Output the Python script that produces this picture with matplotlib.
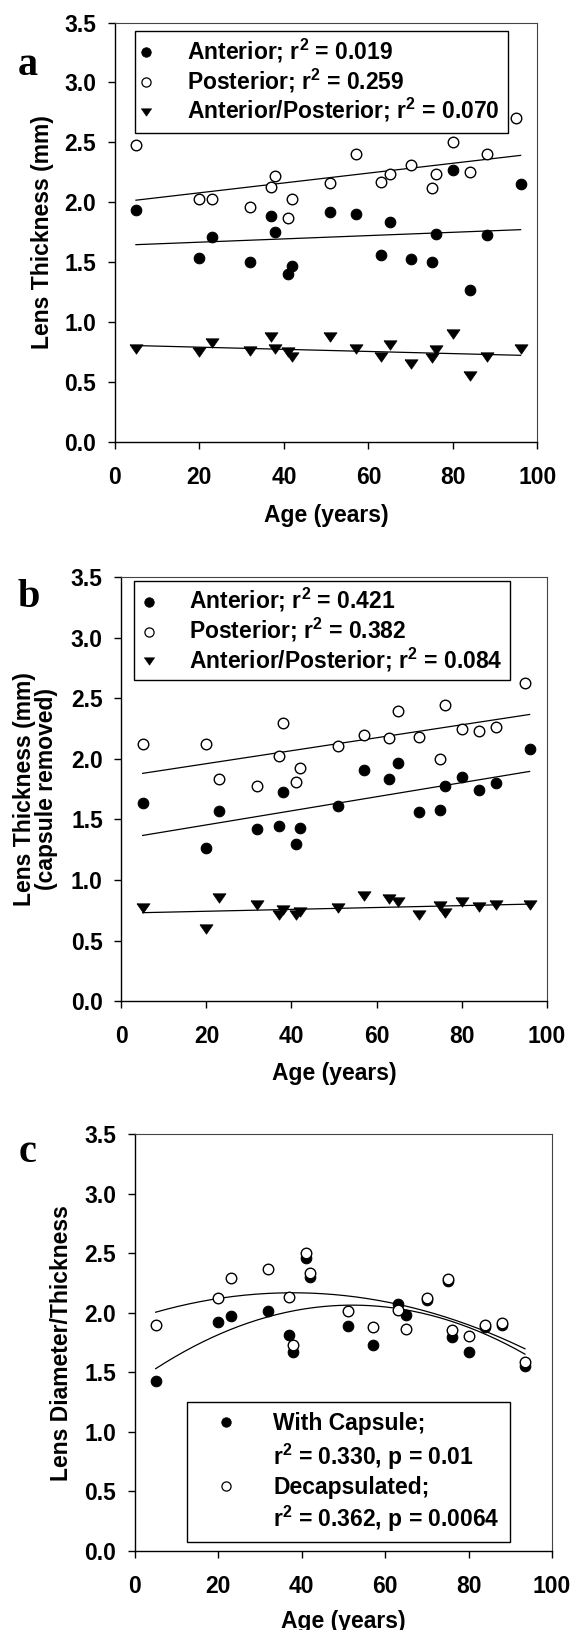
import numpy as np
import matplotlib
matplotlib.use("Agg")
import matplotlib.pyplot as plt
from matplotlib.lines import Line2D
from matplotlib.patches import Rectangle
from matplotlib.transforms import Affine2D

plt.rcParams.update({
    "font.family": "Liberation Sans",
    "font.weight": "bold",
    "axes.labelweight": "bold",
    "mathtext.fontset": "custom",
    "mathtext.rm": "Liberation Sans:bold",
    "mathtext.it": "Liberation Sans:bold",
    "mathtext.bf": "Liberation Sans:bold",
})

# ---------------- data ----------------
age = [5, 20, 23, 32, 37, 38, 41, 42, 51, 57, 63, 65, 70, 75, 76, 80, 84, 88, 96]
age_post = [5, 20, 23, 32, 37, 38, 41, 42, 51, 57, 63, 65, 70, 75, 76, 80, 84, 88, 95]
age_c = [5, 20, 23, 32, 37, 38, 41, 42, 51, 57, 63, 65, 70, 75, 76, 80, 84, 88, 93.5]

# (a) lens thickness with capsule
ant_a = [1.94, 1.54, 1.71, 1.50, 1.89, 1.75, 1.40, 1.47, 1.92, 1.90,
         1.56, 1.84, 1.53, 1.50, 1.74, 2.27, 1.27, 1.73, 2.15]
post_a = [2.48, 2.03, 2.03, 1.96, 2.13, 2.22, 1.87, 2.03, 2.16, 2.40,
          2.17, 2.24, 2.31, 2.12, 2.24, 2.50, 2.25, 2.40, 2.70]
ratio_a = [0.775, 0.75, 0.83, 0.76, 0.875, 0.78, 0.75, 0.71, 0.88, 0.78,
           0.71, 0.81, 0.65, 0.70, 0.77, 0.90, 0.556, 0.71, 0.78]

# (b) lens thickness, capsule removed
ant_b = [1.632, 1.266, 1.569, 1.418, 1.448, 1.723, 1.297, 1.426, 1.613, 1.912,
         1.832, 1.967, 1.563, 1.577, 1.777, 1.852, 1.742, 1.797, 2.085]
post_b = [2.126, 2.126, 1.835, 1.777, 2.025, 2.294, 1.810, 1.926, 2.104, 2.195,
          2.173, 2.398, 2.184, 1.997, 2.448, 2.245, 2.228, 2.264, 2.626]
ratio_b = [0.766, 0.593, 0.849, 0.794, 0.712, 0.753, 0.712, 0.734, 0.766, 0.871,
           0.841, 0.821, 0.712, 0.788, 0.725, 0.821, 0.780, 0.794, 0.794]

# (c) diameter / thickness
caps_c = [1.428, 1.925, 1.970, 2.015, 1.814, 1.668, 2.457, 2.303, 1.889, 1.727,
          2.071, 1.984, 2.107, 2.270, 1.794, 1.669, 1.884, 1.898, 1.556]
decap_c = [1.898, 2.121, 2.294, 2.367, 2.130, 1.727, 2.499, 2.337, 2.018, 1.878,
           2.026, 1.867, 2.127, 2.281, 1.856, 1.808, 1.898, 1.912, 1.585]

labels_a = ["Anterior; r$^2$ = 0.019", "Posterior; r$^2$ = 0.259",
            "Anterior/Posterior; r$^2$ = 0.070"]
labels_b = ["Anterior; r$^2$ = 0.421", "Posterior; r$^2$ = 0.382",
            "Anterior/Posterior; r$^2$ = 0.084"]
labels_c = ["With Capsule;", "r$^2$ = 0.330, p = 0.01",
            "Decapsulated;", "r$^2$ = 0.362, p = 0.0064"]

x_ticks = [0, 20, 40, 60, 80, 100]
y_ticks = [0.0, 0.5, 1.0, 1.5, 2.0, 2.5, 3.0, 3.5]

# ---------------- figure ----------------
W, H = 572, 1630
fig = plt.figure(figsize=(W / 100, H / 100), dpi=100)
# pixel coordinates measured from the top-left corner of the figure
PX = Affine2D().scale(1 / W, -1 / H).translate(0, 1) + fig.transFigure

TRI = [(-1, 0.72), (1, 0.72), (0, -0.72), (-1, 0.72)]   # point-down triangle
MS_C = 7.6
MS_T = 9.4
FS_TICK = 16.5
FS_LAB = 16.5
FS_LEG = 16.5


def axes_px(left, right, top, bottom):
    return fig.add_axes([left / W, 1 - bottom / H, (right - left) / W, (bottom - top) / H])


def style(ax, ylabel, ylab_x, xlab_y, ypad):
    ax.set_xlim(0, 100)
    ax.set_ylim(0, 3.5)
    ax.set_xticks(x_ticks)
    ax.set_yticks(y_ticks)
    ax.tick_params(axis="both", direction="out", length=5, width=1.0,
                   labelsize=FS_TICK, color="black")
    ax.tick_params(axis="x", pad=12)
    ax.tick_params(axis="y", pad=ypad)
    for lab in ax.get_xticklabels() + ax.get_yticklabels():
        lab.set_fontweight("bold")
    for side in ("left", "bottom"):
        ax.spines[side].set_linewidth(1.0)
        ax.spines[side].set_color("black")
    for side in ("top", "right"):
        ax.spines[side].set_linewidth(0.8)
        ax.spines[side].set_color("#444444")
    ax.set_xlabel("Age (years)", fontsize=FS_LAB, fontweight="bold")
    ax.set_ylabel(ylabel, fontsize=FS_LAB, fontweight="bold", multialignment="center",
                  linespacing=0.95)
    ax.xaxis.set_label_coords(0.5, xlab_y)
    ax.yaxis.set_label_coords(ylab_x, 0.5)


def linfit(ax, x, y, x_range):
    k, b = np.polyfit(x, y, 1)
    xs = np.array(x_range, dtype=float)
    ax.plot(xs, k * xs + b, color="black", lw=0.9, zorder=2)


def filled(ax, x, y):
    ax.plot(x, y, "o", ls="none", ms=MS_C, mfc="black", mec="black", mew=0.8, zorder=3)


def hollow(ax, x, y):
    ax.plot(x, y, "o", ls="none", ms=MS_C, mfc="white", mec="black", mew=1.0, zorder=4)


def tri(ax, x, y):
    ax.plot(x, y, marker=TRI, ls="none", ms=MS_T, mfc="black", mec="black", mew=0.5, zorder=3)


LEG_MARK = {
    "f": dict(marker="o", ms=6.8, mfc="black", mec="black", mew=0.6),
    "o": dict(marker="o", ms=6.6, mfc="white", mec="black", mew=0.9),
    "t": dict(marker=TRI, ms=7.4, mfc="black", mec="black", mew=0.4),
}


def legend_box(box, kinds, mark_x, mark_y, text_x, baselines, labels):
    x0, y0, x1, y1 = box
    fig.add_artist(Rectangle((x0, y0), x1 - x0, y1 - y0, transform=PX,
                             facecolor="white", edgecolor="black", lw=1.0, zorder=5))
    for k, my in zip(kinds, mark_y):
        fig.add_artist(Line2D([mark_x], [my], transform=PX, ls="none", zorder=6, **LEG_MARK[k]))
    for lab, by in zip(labels, baselines):
        fig.text(text_x, by, lab, transform=PX, ha="left", va="baseline",
                 fontsize=FS_LEG, fontweight="bold", zorder=6)


def panel_letter(x, y, s):
    fig.text(x, y, s, transform=PX, ha="center", va="baseline",
             family="Liberation Serif", fontweight="bold", fontsize=29)


# ---- panel a ----
ax_a = axes_px(114.8, 537.5, 22.5, 442.3)
linfit(ax_a, age, ant_a, [5, 96])
linfit(ax_a, age_post, post_a, [5, 96])
linfit(ax_a, age, ratio_a, [5, 96])
filled(ax_a, age, ant_a)
hollow(ax_a, age_post, post_a)
tri(ax_a, age, ratio_a)
style(ax_a, "Lens Thickness (mm)", -0.145, -0.147, 8.4)
legend_box((134.8, 30.7, 508.4, 133.3), ["f", "o", "t"], 145.8, [52.3, 81.7, 111.7],
           186.6, [59.3, 89.0, 118.7], labels_a)
panel_letter(28.0, 75, "a")

# ---- panel b ----
ax_b = axes_px(121.4, 546.6, 577.0, 1001.3)
linfit(ax_b, age, ant_b, [5, 96])
linfit(ax_b, age_post, post_b, [5, 96])
linfit(ax_b, age, ratio_b, [5, 96])
filled(ax_b, age, ant_b)
hollow(ax_b, age_post, post_b)
tri(ax_b, age, ratio_b)
style(ax_b, "Lens Thickness (mm)\n(capsule removed)", -0.150, -0.142, 8.4)
legend_box((133.7, 580.7, 510.2, 680.0), ["f", "o", "t"], 148.7, [602.3, 631.7, 660.7],
           188.8, [608.5, 638.3, 668.0], labels_b)
panel_letter(29.2, 606.7, "b")

# ---- panel c ----
ax_c = axes_px(134.8, 552.1, 1134.3, 1551.0)
for vals in (caps_c, decap_c):
    c2, c1, c0 = np.polyfit(age_c, vals, 2)
    xs = np.linspace(5, 93.5, 200)
    ax_c.plot(xs, c2 * xs ** 2 + c1 * xs + c0, color="black", lw=0.9, zorder=2)
filled(ax_c, age_c, caps_c)
hollow(ax_c, age_c, decap_c)
style(ax_c, "Lens Diameter/Thickness", -0.148, -0.1416, 8.4)
legend_box((186.6, 1401.7, 509.5, 1542.3), ["f", "o"], 226.0, [1422.3, 1486.0],
           273.3, [1430.0, 1465.0, 1494.0, 1527.3], labels_c)
panel_letter(27.3, 1161.7, "c")

fig.savefig("out.png", dpi=100)
